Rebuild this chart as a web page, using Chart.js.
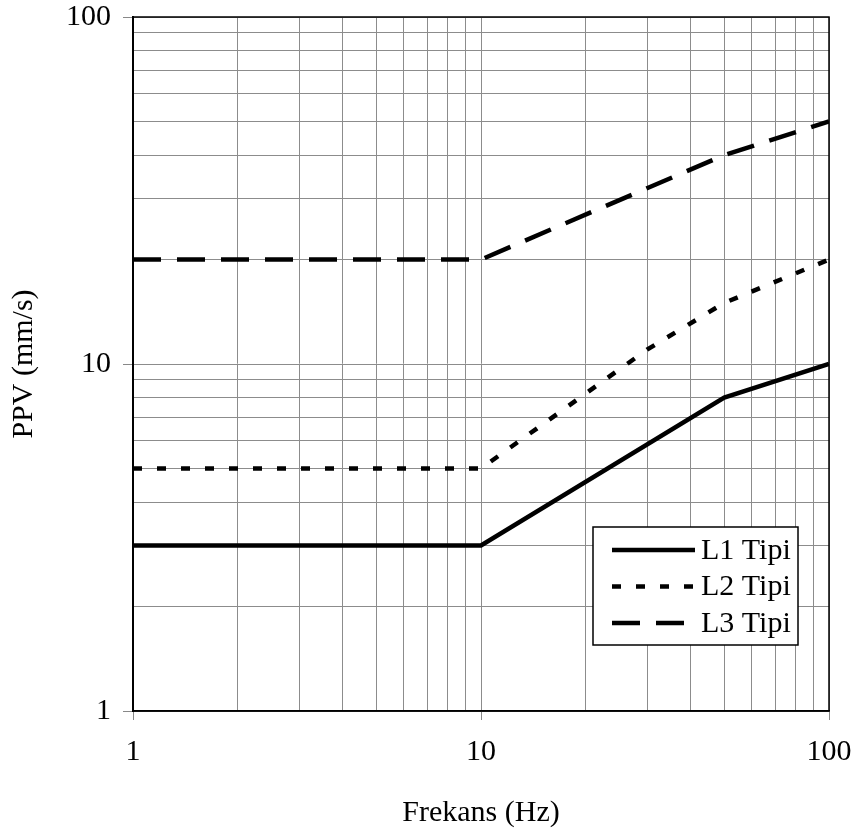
<!DOCTYPE html>
<html>
<head>
<meta charset="utf-8">
<script src="https://cdn.jsdelivr.net/npm/chart.js@4"></script>
<style>
  html, body { margin: 0; padding: 0; background: #ffffff; }
  #wrap { width: 856px; height: 834px; }
</style>
</head>
<body>
<div id="wrap"><canvas id="ppvChart" width="856" height="834"></canvas></div>
<script>
// Frekans (Hz) noktalari ve PPV sinir degerleri (mm/s)
const l1Freq = [1, 10, 50, 100];
const l1Ppv = [3, 3, 8, 10];
const l2Freq = [1, 10, 30, 50, 100];
const l2Ppv = [5, 5, 11, 15, 20];
const l3Freq = [1, 10, 50, 100];
const l3Ppv = [20, 20, 40, 50];

const seriesLabels = ["L1 Tipi", "L2 Tipi", "L3 Tipi"];

// Logaritmik eksen cizgileri ve etiketleri
const gridValues = [1, 2, 3, 4, 5, 6, 7, 8, 9, 10, 20, 30, 40, 50, 60, 70, 80, 90, 100];
const tickLabels = [1, 10, 100];

const FONT = "'Liberation Serif', 'Times New Roman', serif";

function toPoints(xs, ys) {
    return xs.map((x, i) => ({ x: x, y: ys[i] }));
}

function setTicks(scale) {
    scale.ticks = gridValues.map((v) => ({ value: v }));
}

function majorOnly(value) {
    return tickLabels.includes(value) ? String(value) : "";
}

function tickColor(ctx) {
    return ctx.tick && tickLabels.includes(ctx.tick.value) ? "#888888" : "rgba(0,0,0,0)";
}

// etiket tasmasi icin eklenen ic bosluklari kaldir, kenar bosluklari layout.padding'den gelsin
function noLabelPadding(scale) {
    scale.paddingTop = 0;
    scale.paddingBottom = 0;
    scale.paddingLeft = 0;
    scale.paddingRight = 0;
}

// Cizim alani etrafindaki siyah cerceve
const framePlugin = {
    id: "frame",
    afterDatasetsDraw(chart) {
        const { ctx, chartArea: a } = chart;
        ctx.save();
        ctx.strokeStyle = "#000000";
        ctx.lineWidth = 1.5;
        ctx.strokeRect(a.left, a.top, a.right - a.left, a.bottom - a.top);
        ctx.restore();
    },
};

// Sag altta cerceveli gosterge kutusu
const boxLegend = {
    id: "boxLegend",
    afterDraw(chart) {
        const { ctx, chartArea: a } = chart;
        const left = a.right - 236;
        const top = a.bottom - 184;
        const w = 205;
        const h = 118;
        ctx.save();
        ctx.fillStyle = "#ffffff";
        ctx.fillRect(left, top, w, h);
        ctx.strokeStyle = "#000000";
        ctx.lineWidth = 1.5;
        ctx.strokeRect(left, top, w, h);

        chart.data.datasets.forEach((ds, i) => {
            const y = top + 23 + i * 36.5;
            ctx.beginPath();
            ctx.setLineDash(ds.borderDash || []);
            ctx.lineWidth = ds.borderWidth;
            ctx.strokeStyle = ds.borderColor;
            ctx.moveTo(left + 19, y);
            ctx.lineTo(left + 102, y);
            ctx.stroke();
            ctx.setLineDash([]);
            ctx.fillStyle = "#000000";
            ctx.font = "30px " + FONT;
            ctx.textBaseline = "middle";
            ctx.textAlign = "left";
            ctx.fillText(ds.label, left + 108, y + 1);
        });
        ctx.restore();
    },
};

const lineStyle = {
    borderColor: "#000000",
    borderWidth: 4.5,
    pointRadius: 0,
    fill: false,
    tension: 0,
};

const ppvChart = new Chart(document.getElementById("ppvChart").getContext("2d"), {
    type: "line",
    data: {
        datasets: [
            { ...lineStyle, label: seriesLabels[0], data: toPoints(l1Freq, l1Ppv) },
            { ...lineStyle, label: seriesLabels[1], data: toPoints(l2Freq, l2Ppv), borderDash: [9, 15] },
            { ...lineStyle, label: seriesLabels[2], data: toPoints(l3Freq, l3Ppv), borderDash: [28, 16] },
        ],
    },
    options: {
        responsive: false,
        animation: false,
        layout: {
            padding: { top: 17, right: 27, left: 0, bottom: 0 },
        },
        plugins: {
            legend: { display: false },
            tooltip: { enabled: false },
        },
        scales: {
            x: {
                type: "logarithmic",
                min: 1,
                max: 100,
                afterBuildTicks: setTicks,
                afterFit(scale) {
                    scale.height = 123;
                    noLabelPadding(scale);
                },
                border: { color: "#000000", width: 1.5 },
                grid: {
                    color: "#8c8c8c",
                    lineWidth: 1,
                    tickLength: 9,
                    tickColor: tickColor,
                },
                ticks: {
                    autoSkip: false,
                    maxRotation: 0,
                    padding: 14,
                    color: "#000000",
                    font: { family: FONT, size: 30 },
                    callback: majorOnly,
                },
                title: {
                    display: true,
                    text: "Frekans (Hz)",
                    color: "#000000",
                    font: { family: FONT, size: 30 },
                    padding: { top: 0, bottom: 3 },
                },
            },
            y: {
                type: "logarithmic",
                min: 1,
                max: 100,
                afterBuildTicks: setTicks,
                afterFit(scale) {
                    scale.width = 133;
                    noLabelPadding(scale);
                },
                border: { color: "#000000", width: 2 },
                grid: {
                    color: "#8c8c8c",
                    lineWidth: 1,
                    tickLength: 10,
                    tickColor: tickColor,
                },
                ticks: {
                    autoSkip: false,
                    padding: 12,
                    color: "#000000",
                    font: { family: FONT, size: 30 },
                    callback: majorOnly,
                },
                title: {
                    display: true,
                    text: "PPV (mm/s)",
                    color: "#000000",
                    font: { family: FONT, size: 30 },
                    padding: { top: 6, bottom: 0 },
                },
            },
        },
    },
    plugins: [framePlugin, boxLegend],
});
</script>
</body>
</html>
